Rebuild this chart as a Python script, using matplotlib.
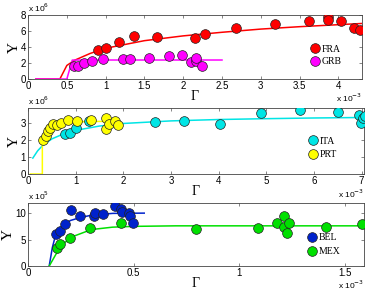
import matplotlib
matplotlib.use("Agg")
import matplotlib.pyplot as plt

# ---- Panel 1 (x in 1e-3, y in 1e6)
fra_x = [0.90, 1.0, 1.17, 1.37, 1.66, 2.15, 2.28, 2.68, 3.18, 3.62, 3.86, 3.87, 4.04, 4.20, 4.28]
fra_y = [3.65, 3.86, 4.69, 5.39, 5.27, 5.19, 5.60, 6.39, 6.89, 7.26, 7.80, 7.39, 7.26, 6.35, 6.18]
fra_fx = [0.1, 0.41, 0.5, 0.6, 0.8, 1.0, 1.5, 2.0, 2.5, 3.0, 3.5, 4.0, 4.3]
fra_fy = [0.0, 0.0, 1.7, 2.35, 3.2, 3.85, 4.8, 5.4, 5.85, 6.25, 6.55, 6.8, 6.95]
grb_x = [0.59, 0.64, 0.72, 0.82, 0.97, 1.23, 1.32, 1.56, 1.82, 1.99, 2.10, 2.16, 2.17, 2.24]
grb_y = [1.58, 1.58, 1.99, 2.20, 2.49, 2.49, 2.49, 2.57, 2.90, 2.99, 2.16, 2.28, 2.61, 1.62]
grb_fx = [0.1, 0.5, 0.57, 1.0, 1.5, 2.0, 2.5]
grb_fy = [0.0, 0.0, 2.37, 2.38, 2.38, 2.38, 2.38]

# ---- Panel 2 (x in 1e-3, y in 1e6)
ita_x = [0.78, 0.885, 1.01, 1.27, 2.67, 3.28, 4.02, 4.90, 5.70, 6.51, 6.95, 6.99, 7.04, 7.07]
ita_y = [2.33, 2.39, 2.69, 3.08, 3.02, 3.12, 2.94, 3.57, 3.73, 3.63, 3.47, 2.98, 3.27, 3.40]
ita_fx = [0.1, 0.2, 0.3, 0.5, 0.75, 1.0, 1.5, 2.0, 3.0, 4.0, 5.0, 6.0, 7.05]
ita_fy = [0.93, 1.35, 1.65, 2.05, 2.35, 2.55, 2.8, 2.95, 3.1, 3.18, 3.23, 3.27, 3.3]
prt_x = [0.32, 0.37, 0.41, 0.46, 0.53, 0.60, 0.69, 0.84, 1.03, 1.32, 1.64, 1.64, 1.70, 1.82, 1.88]
prt_y = [2.00, 2.24, 2.49, 2.69, 2.92, 2.84, 2.96, 3.14, 3.12, 3.14, 3.27, 2.63, 2.94, 3.08, 2.84]
prt_fx = [0.05, 0.3, 0.3, 0.4, 0.5, 0.6, 0.8, 1.0, 1.5, 1.9]
prt_fy = [0.0, 0.0, 1.8, 2.35, 2.7, 2.85, 3.0, 3.05, 3.07, 3.07]

# ---- Panel 3 (x in 1e-3, y in 1e5)
bel_x = [0.132, 0.15, 0.174, 0.202, 0.246, 0.312, 0.315, 0.354, 0.41, 0.442, 0.447, 0.48, 0.484, 0.498]
bel_y = [6.01, 6.7, 7.9, 10.5, 9.37, 9.37, 10.0, 9.8, 11.27, 10.8, 10.2, 10.1, 9.49, 8.16]
bel_fx = [0.1, 0.115, 0.13, 0.15, 0.2, 0.25, 0.3, 0.4, 0.55]
bel_fy = [0.0, 3.5, 5.8, 7.2, 8.6, 9.2, 9.6, 9.95, 10.0]
mex_x = [0.138, 0.152, 0.199, 0.295, 0.442, 0.793, 1.088, 1.179, 1.212, 1.213, 1.226, 1.237, 1.412, 1.582]
mex_y = [3.48, 4.11, 5.38, 7.28, 8.10, 6.96, 7.15, 8.10, 9.49, 7.34, 6.33, 8.10, 7.47, 7.97]
mex_fx = [0.1, 0.15, 0.2, 0.3, 0.4, 0.5, 0.7, 1.0, 1.6]
mex_fy = [0.0, 3.5, 5.4, 6.9, 7.35, 7.5, 7.6, 7.6, 7.6]

panels = [
    dict(rect=[0.075, 0.733, 0.892, 0.216], xlim=(0, 4.3), ylim=(0, 8),
         xticks=[0, 0.5, 1, 1.5, 2, 2.5, 3, 3.5, 4], yticks=[0, 2, 4, 6, 8],
         xtl=['0', '0.5', '1', '1.5', '2', '2.5', '3', '3.5', '4'],
         yexp='6', leg_anchor=(0.97, 0.05), leg_space=0.35,
         series=[("FRA", fra_x, fra_y, fra_fx, fra_fy, '#ff0000'),
                 ("GRB", grb_x, grb_y, grb_fx, grb_fy, '#ff00ff')]),
    dict(rect=[0.075, 0.412, 0.898, 0.223], xlim=(0, 7.05), ylim=(0, 3.85),
         xticks=[0, 1, 2, 3, 4, 5, 6, 7], yticks=[0, 1, 2, 3],
         xtl=['0', '1', '2', '3', '4', '5', '6', '7'],
         yexp='6', leg_anchor=(0.95, 0.08), leg_space=0.45,
         series=[("ITA", ita_x, ita_y, ita_fx, ita_fy, '#00e5e5'),
                 ("PRT", prt_x, prt_y, prt_fx, prt_fy, '#ffff00')]),
    dict(rect=[0.075, 0.101, 0.898, 0.213], xlim=(0, 1.59), ylim=(0, 11.9),
         xticks=[0, 0.5, 1, 1.5], yticks=[0, 5, 10],
         xtl=['0', '0.5', '1', '1.5'],
         yexp='5', leg_anchor=(0.96, 0.0), leg_space=0.55,
         series=[("BEL", bel_x, bel_y, bel_fx, bel_fy, '#0022cc'),
                 ("MEX", mex_x, mex_y, mex_fx, mex_fy, '#00e000')]),
]

fig = plt.figure(figsize=(3.74, 2.96), dpi=100)
serif = 'Liberation Serif'
sans = 'Liberation Sans'

for p in panels:
    ax = fig.add_axes(p['rect'])
    handles = []
    for name, x, y, fx, fy, c in p['series']:
        ax.plot(fx, fy, '-', color=c, lw=1.1, zorder=2)
        h, = ax.plot(x, y, 'o', color=c, mec='#222222', mew=0.5, ms=7, zorder=3, label=name)
        handles.append(h)
    ax.set_xlim(*p['xlim'])
    ax.set_ylim(*p['ylim'])
    ax.set_xticks(p['xticks'])
    ax.set_xticklabels(p['xtl'])
    ax.set_yticks(p['yticks'])
    ax.tick_params(direction='in', top=True, right=True, length=2.5, width=0.5,
                   labelsize=7, pad=1.5, color='#555555')
    for lbl in ax.get_xticklabels() + ax.get_yticklabels():
        lbl.set_family(sans)
    for s in ax.spines.values():
        s.set_linewidth(0.6)
        s.set_color('#444444')
    ax.set_xlabel('Γ', family=serif, fontsize=10, labelpad=-1)
    ax.set_ylabel('Y', family=serif, fontsize=11, labelpad=0)
    ax.legend(handles=handles, loc='lower right', frameon=False,
              prop={'family': serif, 'size': 7}, handletextpad=0.1,
              labelspacing=p['leg_space'], borderaxespad=0.6, markerscale=1.0,
              handlelength=1.2, bbox_to_anchor=p['leg_anchor'])
    ax.text(0.0, 1.01, r'x 10$^{' + p['yexp'] + r'}$', transform=ax.transAxes,
            fontsize=6, family=sans, ha='left', va='bottom')
    ax.text(1.0, -0.2, r'x 10$^{-3}$', transform=ax.transAxes,
            fontsize=6, family=sans, ha='right', va='top')

fig.savefig('out.png', dpi=100)
